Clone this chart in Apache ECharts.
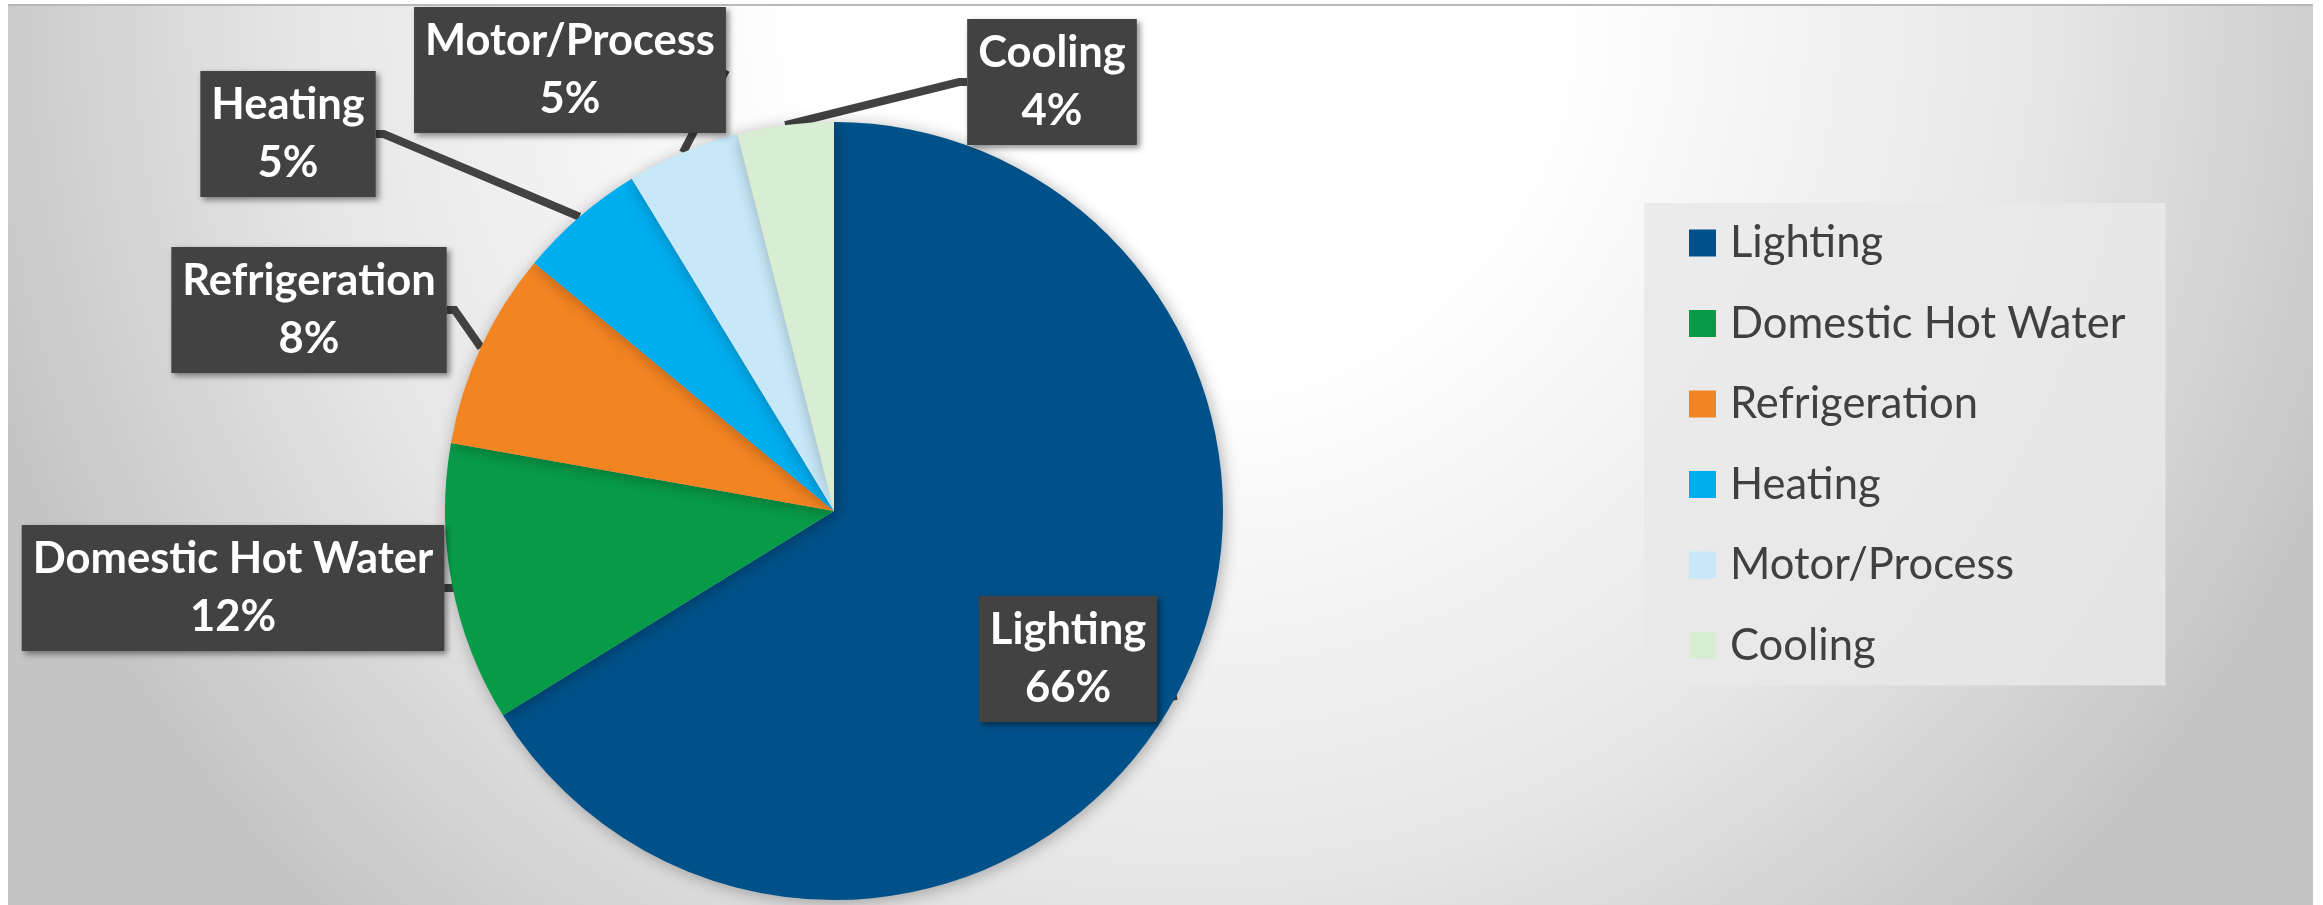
<!DOCTYPE html>
<html>
<head>
<meta charset="utf-8">
<script src="https://cdn.jsdelivr.net/npm/echarts@6/dist/echarts.min.js"></script>
<style>
  html, body { margin: 0; padding: 0; background: #ffffff; width: 2323px; height: 905px; overflow: hidden; }
  #frame { position: absolute; left: 8px; top: 4px; width: 2305px; height: 901px;
    background: radial-gradient(circle at 1170px 0px, #ffffff 0px, #ffffff 380px, #e6e6e6 880px, #c4c4c4 1250px);
    border-top: 2px solid #b9b9b9; box-sizing: border-box; }
  #chart { position: absolute; left: 8px; top: 6px; width: 2305px; height: 899px; }
</style>
</head>
<body>
<div id="frame"></div>
<div id="chart"></div>
<script>
// ---- data ----
const categories = ['Lighting', 'Domestic Hot Water', 'Refrigeration', 'Heating', 'Motor/Process', 'Cooling'];
const shares = [66.2, 11.6, 8.2, 5.3, 4.7, 4.0];
const sliceColors = ['#005189', '#079b48', '#f38422', '#00adef', '#c6e8f8', '#d9ecd4'];

// label box centres (layout only)
const labelCentres = [[1060, 653], [225, 582], [301, 304], [280, 128], [562, 64], [1044, 76]];

const chart = echarts.init(document.getElementById('chart'), null, { renderer: 'canvas' });

const option = {
  backgroundColor: 'transparent',
  animation: false,
  color: sliceColors,
  legend: {
    orient: 'vertical',
    left: 1636,
    top: 197,
    padding: [15, 40, 15, 45],
    backgroundColor: 'rgba(233,233,233,0.85)',
    itemWidth: 27,
    itemHeight: 27,
    itemGap: 30.5,
    icon: 'rect',
    data: categories,
    textStyle: {
      fontFamily: 'Lato',
      fontSize: 43.5,
      lineHeight: 50,
      color: '#404040',
      padding: [0, 0, 0, 9]
    }
  },
  series: [{
    type: 'pie',
    center: [826, 505],
    radius: [0, 389],
    startAngle: 90,
    clockwise: true,
    avoidLabelOverlap: false,
    itemStyle: {
      shadowBlur: 16,
      shadowColor: 'rgba(0,0,0,0.3)',
      shadowOffsetX: 2,
      shadowOffsetY: 2
    },
    label: {
      show: true,
      position: 'outside',
      formatter: function (p) { return p.name + '\n' + Math.round(p.percent) + '%'; },
      color: '#ffffff',
      fontFamily: 'Lato',
      fontWeight: 'bold',
      fontSize: 43.5,
      lineHeight: 58,
      align: 'center',
      backgroundColor: '#424242',
      padding: [5, 11, 5, 11],
      shadowColor: 'rgba(0,0,0,0.45)',
      shadowBlur: 6,
      shadowOffsetX: 3,
      shadowOffsetY: 3
    },
    labelLine: {
      show: true,
      length: 8,
      length2: 8,
      smooth: false,
      lineStyle: { color: '#424242', width: 8 }
    },
    labelLayout: function (params) {
      const c = labelCentres[params.dataIndex];
      return { x: c[0], y: c[1], align: 'center', verticalAlign: 'middle' };
    },
    data: categories.map(function (name, i) { return { name: name, value: shares[i] }; })
  }]
};

chart.setOption(option);
</script>
</body>
</html>
